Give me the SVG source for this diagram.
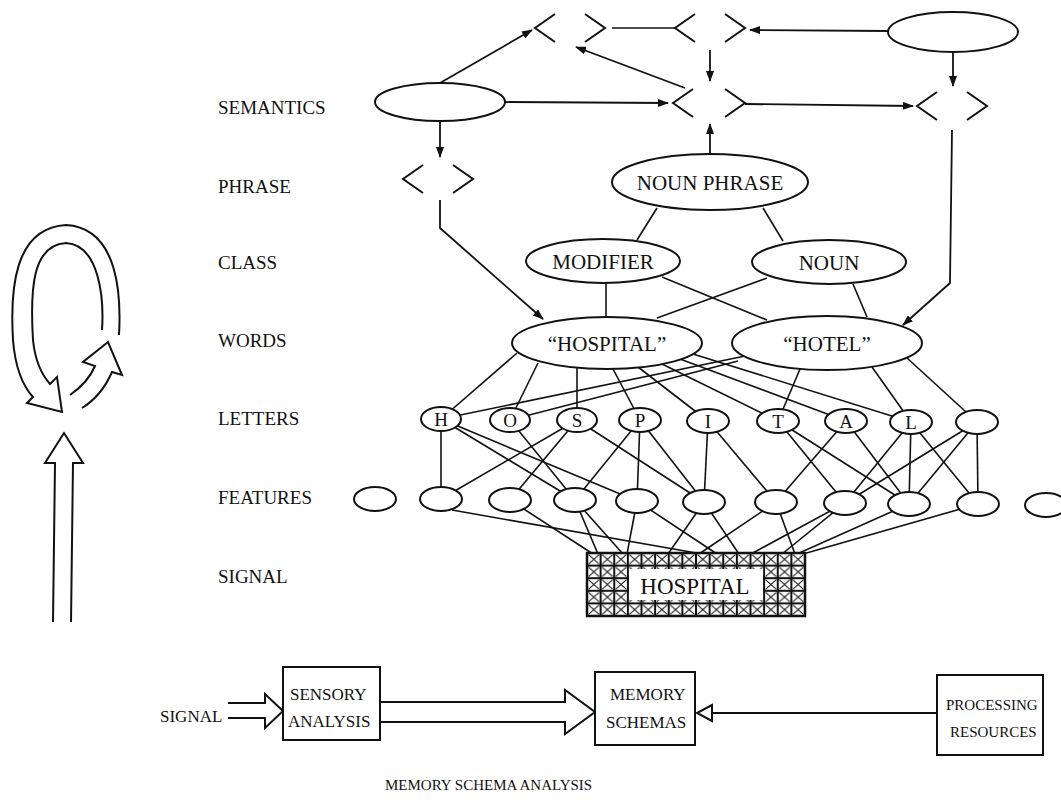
<svg xmlns="http://www.w3.org/2000/svg" width="1061" height="808" viewBox="0 0 1061 808">
<style>
text{font-family:"Liberation Serif","Times New Roman",serif;fill:#111}
.lbl{font-size:19px}
.nt{font-size:21px;text-anchor:middle}
.lt{font-size:19px;text-anchor:middle}
.bt{font-size:17px}
.sm{font-size:15px}
.node{fill:#fff;stroke:#111;stroke-width:2}
.ln{fill:none;stroke:#111;stroke-width:1.6}
.br{fill:none;stroke:#111;stroke-width:2}
.ar{fill:none;stroke:#111;stroke-width:1.8;marker-end:url(#ah)}
.hol{fill:none;stroke:#111;stroke-width:2;stroke-linejoin:miter}
</style>
<defs>
<marker id="ah" markerUnits="userSpaceOnUse" markerWidth="11" markerHeight="8" refX="10" refY="4" orient="auto">
<path d="M0,0 L11,4 L0,8 z" fill="#111"/>
</marker>
<pattern id="hatch" patternUnits="userSpaceOnUse" x="587" y="553" width="13.625" height="12.6">
<rect x="0" y="0" width="13.625" height="12.6" fill="#fff" stroke="#111" stroke-width="2"/>
<path d="M1.5,1.5 L12.1,11.1 M12.1,1.5 L1.5,11.1" stroke="#111" stroke-width="1.1"/>
</pattern>
</defs>
<rect width="1061" height="808" fill="#fff"/>

<g id="labels">
<text class="lbl" x="218" y="114">SEMANTICS</text>
<text class="lbl" x="218" y="193">PHRASE</text>
<text class="lbl" x="218" y="269">CLASS</text>
<text class="lbl" x="218" y="347">WORDS</text>
<text class="lbl" x="218" y="425">LETTERS</text>
<text class="lbl" x="218" y="504">FEATURES</text>
<text class="lbl" x="218" y="583">SIGNAL</text>
</g>

<g id="cycle-arrows">
<path class="hol" d="M119,335 C121,300 120,228 66,225 C14,228 10,290 13,340 C15,365 22,385 33,397 L27,403 L62,412 L57,377 L50,384 C42,375 35,360 33,340 C30,290 32,245 66,243 C100,245 104,300 102,330"/>
<path class="hol" d="M70,395 C80,388 90,378 95,366 L83,362 L108,342 L122,375 L112,372 C105,388 95,400 82,408"/>
<path class="hol" d="M53,622 L55,463 L45,463 L64,433 L83,463 L73,463 L71,622"/>
</g>

<g id="connectors">
<line class="ln" x1="612" y1="28" x2="675" y2="28"/>
<line class="ar" x1="888" y1="31" x2="750" y2="30"/>
<line class="ar" x1="440" y1="83" x2="532" y2="30"/>
<line class="ar" x1="685" y1="88" x2="576" y2="47"/>
<line class="ar" x1="710" y1="50" x2="710" y2="81"/>
<line class="ar" x1="505" y1="102" x2="668" y2="103"/>
<line class="ar" x1="745" y1="104" x2="913" y2="106"/>
<line class="ar" x1="953" y1="52" x2="953" y2="86"/>
<line class="ar" x1="710" y1="154" x2="710" y2="124"/>
<line class="ar" x1="440" y1="121" x2="440" y2="157"/>
<polyline class="ar" points="440,200 440,228 543,319"/>
<polyline class="ar" points="952,130 950,283 903,325"/>

<line class="ln" x1="657" y1="208" x2="637" y2="240"/>
<line class="ln" x1="763" y1="208" x2="783" y2="241"/>
<line class="ln" x1="606" y1="283" x2="606" y2="317"/>
<line class="ln" x1="662" y1="277" x2="767" y2="320"/>
<line class="ln" x1="767" y1="278" x2="657" y2="318"/>
<line class="ln" x1="853" y1="284" x2="867" y2="317"/>

<line class="ln" x1="517" y1="353" x2="441" y2="419"/>
<line class="ln" x1="538" y1="363" x2="510" y2="420"/>
<line class="ln" x1="577" y1="368" x2="577" y2="420"/>
<line class="ln" x1="613" y1="369" x2="640" y2="420"/>
<line class="ln" x1="638" y1="367" x2="708" y2="421"/>
<line class="ln" x1="660" y1="363" x2="778" y2="421"/>
<line class="ln" x1="680" y1="359" x2="846" y2="421"/>
<line class="ln" x1="693" y1="354" x2="911" y2="422"/>
<line class="ln" x1="745" y1="356" x2="441" y2="419"/>
<line class="ln" x1="738" y1="361" x2="510" y2="420"/>
<line class="ln" x1="800" y1="369" x2="778" y2="421"/>
<line class="ln" x1="872" y1="367" x2="911" y2="422"/>
<line class="ln" x1="907" y1="358" x2="977" y2="422"/>

<line class="ln" x1="441" y1="419" x2="441" y2="499"/>
<line class="ln" x1="441" y1="419" x2="575" y2="500"/>
<line class="ln" x1="441" y1="419" x2="637" y2="501"/>
<line class="ln" x1="510" y1="420" x2="575" y2="500"/>
<line class="ln" x1="577" y1="420" x2="441" y2="499"/>
<line class="ln" x1="577" y1="420" x2="510" y2="500"/>
<line class="ln" x1="577" y1="420" x2="704" y2="502"/>
<line class="ln" x1="640" y1="420" x2="575" y2="500"/>
<line class="ln" x1="640" y1="420" x2="637" y2="501"/>
<line class="ln" x1="640" y1="420" x2="704" y2="502"/>
<line class="ln" x1="708" y1="421" x2="704" y2="502"/>
<line class="ln" x1="708" y1="421" x2="776" y2="502"/>
<line class="ln" x1="778" y1="421" x2="845" y2="503"/>
<line class="ln" x1="778" y1="421" x2="909" y2="504"/>
<line class="ln" x1="846" y1="421" x2="776" y2="502"/>
<line class="ln" x1="846" y1="421" x2="909" y2="504"/>
<line class="ln" x1="911" y1="422" x2="845" y2="503"/>
<line class="ln" x1="911" y1="422" x2="909" y2="504"/>
<line class="ln" x1="911" y1="422" x2="978" y2="504"/>
<line class="ln" x1="977" y1="422" x2="845" y2="503"/>
<line class="ln" x1="977" y1="422" x2="909" y2="504"/>
<line class="ln" x1="977" y1="422" x2="978" y2="504"/>

<line class="ln" x1="452" y1="510" x2="702" y2="554"/>
<line class="ln" x1="510" y1="500" x2="593" y2="554"/>
<line class="ln" x1="575" y1="500" x2="598" y2="554"/>
<line class="ln" x1="575" y1="500" x2="623" y2="554"/>
<line class="ln" x1="637" y1="501" x2="627" y2="554"/>
<line class="ln" x1="637" y1="501" x2="717" y2="554"/>
<line class="ln" x1="704" y1="502" x2="668" y2="554"/>
<line class="ln" x1="704" y1="502" x2="739" y2="554"/>
<line class="ln" x1="776" y1="502" x2="699" y2="554"/>
<line class="ln" x1="776" y1="502" x2="795" y2="554"/>
<line class="ln" x1="845" y1="503" x2="751" y2="554"/>
<line class="ln" x1="845" y1="503" x2="782" y2="554"/>
<line class="ln" x1="909" y1="504" x2="797" y2="554"/>
<line class="ln" x1="978" y1="504" x2="803" y2="554"/>
</g>

<g id="bracket-nodes">
<path class="br" d="M555,14 L535,28 L555,42 M585,14 L605,28 L585,42"/>
<path class="br" d="M695,14 L675,28 L695,42 M725,14 L745,28 L725,42"/>
<path class="br" d="M693,89 L673,103 L693,117 M725,89 L745,103 L725,117"/>
<path class="br" d="M937,92 L917,106 L937,120 M967,92 L987,106 L967,120"/>
<path class="br" d="M423,165 L403,179 L423,193 M453,165 L473,179 L453,193"/>
</g>

<g id="sem-left"><ellipse class="node" cx="440" cy="102" rx="65" ry="19"/></g>
<g id="sem-right"><ellipse class="node" cx="953" cy="32" rx="65" ry="20"/></g>
<g id="noun-phrase"><ellipse class="node" cx="710" cy="182" rx="98" ry="28"/><text class="nt" x="710" y="190">NOUN PHRASE</text></g>
<g id="modifier"><ellipse class="node" cx="603" cy="261" rx="77" ry="22"/><text class="nt" x="603" y="269">MODIFIER</text></g>
<g id="noun"><ellipse class="node" cx="829" cy="262" rx="77" ry="22"/><text class="nt" x="829" y="270">NOUN</text></g>
<g id="word-hospital"><ellipse class="node" cx="607" cy="343" rx="95" ry="26"/><text class="nt" x="607" y="351">“HOSPITAL”</text></g>
<g id="word-hotel"><ellipse class="node" cx="827" cy="343" rx="95" ry="27"/><text class="nt" x="827" y="351">“HOTEL”</text></g>

<g id="letters">
<g id="l-h"><ellipse class="node" cx="441" cy="419" rx="20" ry="12"/><text class="lt" x="441" y="426">H</text></g>
<g id="l-o"><ellipse class="node" cx="510" cy="420" rx="20" ry="12"/><text class="lt" x="510" y="427">O</text></g>
<g id="l-s"><ellipse class="node" cx="577" cy="420" rx="20" ry="12"/><text class="lt" x="577" y="427">S</text></g>
<g id="l-p"><ellipse class="node" cx="640" cy="420" rx="21" ry="12"/><text class="lt" x="640" y="427">P</text></g>
<g id="l-i"><ellipse class="node" cx="708" cy="421" rx="21" ry="12"/><text class="lt" x="708" y="428">I</text></g>
<g id="l-t"><ellipse class="node" cx="778" cy="421" rx="21" ry="12"/><text class="lt" x="778" y="428">T</text></g>
<g id="l-a"><ellipse class="node" cx="846" cy="421" rx="21" ry="12"/><text class="lt" x="846" y="428">A</text></g>
<g id="l-l"><ellipse class="node" cx="911" cy="422" rx="21" ry="12"/><text class="lt" x="911" y="429">L</text></g>
<g id="l-blank"><ellipse class="node" cx="977" cy="422" rx="21" ry="12"/></g>
</g>

<g id="features">
<ellipse class="node" cx="375" cy="499" rx="21" ry="12"/>
<ellipse class="node" cx="441" cy="499" rx="21" ry="12"/>
<ellipse class="node" cx="510" cy="500" rx="21" ry="12"/>
<ellipse class="node" cx="575" cy="500" rx="21" ry="12"/>
<ellipse class="node" cx="637" cy="501" rx="21" ry="12"/>
<ellipse class="node" cx="704" cy="502" rx="21" ry="12"/>
<ellipse class="node" cx="776" cy="502" rx="21" ry="12"/>
<ellipse class="node" cx="845" cy="503" rx="21" ry="12"/>
<ellipse class="node" cx="909" cy="504" rx="21" ry="12"/>
<ellipse class="node" cx="978" cy="504" rx="21" ry="12"/>
<ellipse class="node" cx="1046" cy="505" rx="21" ry="12"/>
</g>

<g id="signal-box">
<rect x="587" y="553" width="218" height="63" fill="url(#hatch)" stroke="#111" stroke-width="2.5"/>
<rect x="629" y="569" width="134" height="31" fill="#fff"/>
<text x="695" y="594" font-size="23" text-anchor="middle">HOSPITAL</text>
</g>

<g id="bottom-flow">
<text class="bt" x="160" y="722" font-size="16">SIGNAL</text>
<path class="hol" d="M228,703 L265,703 L265,694 L283,711 L265,728 L265,718 L228,718"/>
<g id="sensory"><rect x="283" y="667" width="97" height="73" fill="#fff" stroke="#111" stroke-width="2"/><text class="bt" x="290" y="700">SENSORY</text><text class="bt" x="288" y="727">ANALYSIS</text></g>
<path class="hol" d="M380,702 L565,702 L565,690 L595,712 L565,734 L565,722 L380,722"/>
<g id="memory"><rect x="595" y="672" width="100" height="73" fill="#fff" stroke="#111" stroke-width="2"/><text class="bt" x="610" y="700">MEMORY</text><text class="bt" x="606" y="728">SCHEMAS</text></g>
<line x1="937" y1="713" x2="712" y2="713" stroke="#111" stroke-width="2"/>
<path d="M712,705 L697,713 L712,721 z" fill="#fff" stroke="#111" stroke-width="2"/>
<g id="processing"><rect x="937" y="675" width="106" height="80" fill="#fff" stroke="#111" stroke-width="2"/><text class="sm" x="946" y="710">PROCESSING</text><text class="sm" x="950" y="737">RESOURCES</text></g>
<text class="sm" x="385" y="790">MEMORY SCHEMA ANALYSIS</text>
</g>
</svg>
